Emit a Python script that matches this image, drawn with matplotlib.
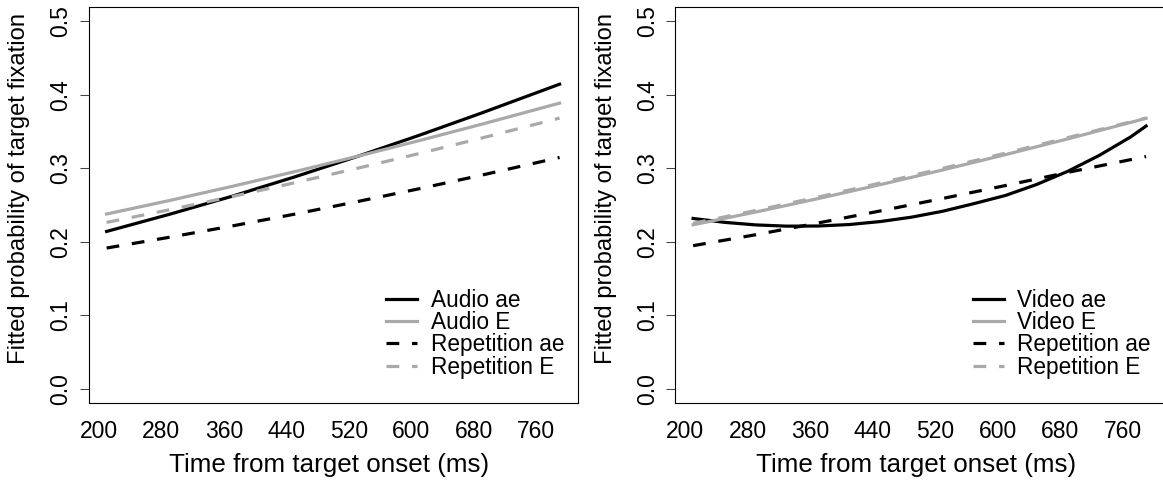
import matplotlib
matplotlib.use("Agg")
import matplotlib.pyplot as plt

plt.rcParams['font.family'] = ['Liberation Sans', 'DejaVu Sans']

time_ms = [210, 290, 370, 450, 530, 610, 690, 790]

# left panel: audio vs repetition
audio_ae = [0.2140, 0.2372, 0.2617, 0.2880, 0.3157, 0.3448, 0.3752, 0.4145]
audio_E = [0.2377, 0.2560, 0.2752, 0.2952, 0.3160, 0.3376, 0.3599, 0.3887]
rep_ae_left = [0.1914, 0.2060, 0.2213, 0.2374, 0.2544, 0.2721, 0.2906, 0.3147]
rep_E_left = [0.2263, 0.2434, 0.2613, 0.2801, 0.2997, 0.3200, 0.3411, 0.3683]

# right panel: video vs repetition (video ae bends, so more points)
time_video = [210, 250, 290, 330, 370, 410, 450, 490, 530, 570, 610, 650, 690, 730, 770, 790]
video_ae = [0.2317, 0.2264, 0.2229, 0.2212, 0.2214, 0.2234, 0.2275, 0.2335,
            0.2416, 0.2520, 0.2630, 0.2780, 0.2960, 0.3175, 0.3425, 0.3575]
video_E = [0.2231, 0.2404, 0.2587, 0.2778, 0.2978, 0.3186, 0.3401, 0.3680]
rep_ae_right = [0.1946, 0.2095, 0.2255, 0.2420, 0.2590, 0.2765, 0.2945, 0.3160]
rep_E_right = [0.2250, 0.2425, 0.2608, 0.2800, 0.3000, 0.3206, 0.3418, 0.3685]

x_ticks = [200, 280, 360, 440, 520, 600, 680, 760]
y_ticks = [0.0, 0.1, 0.2, 0.3, 0.4, 0.5]

GRAY = '#a9a9a9'
LW = 2.3
DASH = (0, (4, 4))

W, H = 1163, 486
AX_W, AX_TOP, AX_BOT = 489.2, 6.7, 403.3
fig = plt.figure(figsize=(W / 100, H / 100), dpi=100)


def make_panel(left_px, series, labels):
    ax = fig.add_axes([left_px / W, 1 - AX_BOT / H, AX_W / W, (AX_BOT - AX_TOP) / H])
    styles = [('black', '-'), (GRAY, '-'), ('black', DASH), (GRAY, DASH)]
    for (xs, ys), (col, ls), lab in zip(series, styles, labels):
        ax.plot(xs, ys, color=col, linestyle=ls, lw=LW, label=lab)

    # R style ranges: data range plus 4%
    ax.set_xlim(210 - 0.04 * 580, 790 + 0.04 * 580)
    ax.set_ylim(-0.02, 0.52)

    ax.set_xticks(x_ticks)
    ax.set_xticklabels([str(t) for t in x_ticks])
    ax.set_yticks(y_ticks)
    ax.set_yticklabels([f'{t:.1f}' for t in y_ticks], rotation=90, va='center')
    ax.tick_params(axis='x', length=0, pad=12, labelsize=16.5)
    ax.tick_params(axis='y', length=6.7, width=0.75, pad=5, labelsize=16.5,
                   color='#444444')
    for sp in ax.spines.values():
        sp.set_linewidth(0.8)

    ax.legend(loc='upper left',
              bbox_to_anchor=(297.5 / AX_W, 1 - (289 - AX_TOP) / (AX_BOT - AX_TOP)),
              frameon=False, fontsize=16.3, handlelength=1.38, handletextpad=0.6,
              labelspacing=-0.035, borderpad=0, borderaxespad=0)

    fig.text((left_px + AX_W / 2 - 4) / W, 1 - 471.7 / H, 'Time from target onset (ms)',
             ha='center', va='baseline', fontsize=18.7)
    fig.text((left_px - 63) / W, 1 - 189 / H, 'Fitted probability of target fixation',
             rotation=90, rotation_mode='anchor', ha='center', va='baseline',
             fontsize=17.1)
    return ax


make_panel(88.5,
           [(time_ms, audio_ae), (time_ms, audio_E), (time_ms, rep_ae_left), (time_ms, rep_E_left)],
           ['Audio ae', 'Audio E', 'Repetition ae', 'Repetition E'])
make_panel(675,
           [(time_video, video_ae), (time_ms, video_E), (time_ms, rep_ae_right), (time_ms, rep_E_right)],
           ['Video ae', 'Video E', 'Repetition ae', 'Repetition E'])

fig.savefig('out.png', dpi=100)
